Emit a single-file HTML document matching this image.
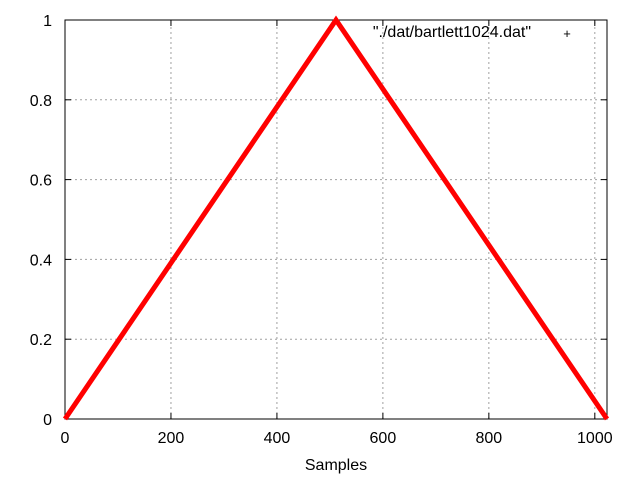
<!DOCTYPE html>
<html><head><meta charset="utf-8"><style>
body{margin:0;background:#fff;}
svg{display:block;font-family:"Liberation Sans",sans-serif;font-size:16px;}
</style></head><body>
<svg id="chart" width="640" height="480">
<g id="grid"></g>
<g id="ticks"></g>
<rect x="65" y="20" width="542" height="399" fill="none" stroke="#000" stroke-width="1"/>
<g id="series"></g>
<text x="531" y="37" text-anchor="end">"./dat/bartlett1024.dat"</text>
<text x="567" y="38" text-anchor="middle" font-size="13">+</text>
<text x="336" y="470" text-anchor="middle">Samples</text>
</svg>
<script>
const xTicks=[0,200,400,600,800,1000];
const yTicks=[0,0.2,0.4,0.6,0.8,1];
const yTickLabels=["0","0.2","0.4","0.6","0.8","1"];
const samples=[0,511.5,1023];
const values=[0,1,0];
const X0=65,X1=607,Y0=419,Y1=20,XMAX=1023;
const xs=v=>X0+(X1-X0)*v/XMAX;
const ys=v=>Y0-(Y0-Y1)*v;
const NS="http://www.w3.org/2000/svg";
function mk(t,a,p){const e=document.createElementNS(NS,t);for(const k in a)e.setAttribute(k,a[k]);p.appendChild(e);return e;}
const grid=document.getElementById('grid'),ticks=document.getElementById('ticks');
xTicks.forEach(v=>{const x=xs(v);
 if(v>0&&x<X1-2){const g=mk('line',{x1:x,x2:x,y1:Y0,y2:Y1,stroke:'#a0a0a0','stroke-dasharray':'2,3','stroke-width':1},grid);
 
 }
 const t=mk('line',{x1:x,x2:x,y1:Y0,y2:Y0-6,stroke:'#000'},ticks);
 
 
 const t2=mk('line',{x1:x,x2:x,y1:Y1,y2:Y1+6,stroke:'#000'},ticks);
 
 
 const l=mk('text',{x:x,y:443,'text-anchor':'middle'},ticks);l.textContent=v;
 
 
});
yTicks.forEach((v,i)=>{const y=ys(v);
 if(v>0&&v<1){const g=mk('line',{x1:X0,x2:X1,y1:y,y2:y,stroke:'#a0a0a0','stroke-dasharray':'2,3','stroke-width':1},grid);
 
 }
 const t=mk('line',{x1:X0,x2:X0+6,y1:y,y2:y,stroke:'#000'},ticks);
 
 
 const t2=mk('line',{x1:X1,x2:X1-6,y1:y,y2:y,stroke:'#000'},ticks);
 
 
 const l=mk('text',{x:52,y:y+6,'text-anchor':'end'},ticks);l.textContent=yTickLabels[i];
 
 
});
const pts=samples.map((s,i)=>xs(s)+','+ys(values[i])).join(' ');
const pl=mk('polyline',{points:pts,fill:'none',stroke:'#f00','stroke-width':5,'stroke-linejoin':'miter'},document.getElementById('series'));


</script>
</body></html>
